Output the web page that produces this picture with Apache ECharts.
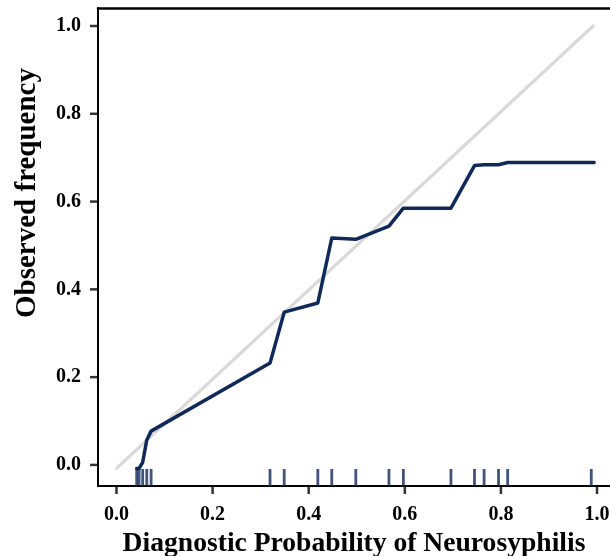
<!DOCTYPE html>
<html>
<head>
<meta charset="utf-8">
<script src="https://cdn.jsdelivr.net/npm/echarts@6/dist/echarts.min.js"></script>
<style>
  html, body { margin: 0; padding: 0; background: #fff; }
  #main { width: 610px; height: 556px; }
</style>
</head>
<body>
<div id="main"></div>
<script>
// calibration curve (predicted probability, observed frequency)
var curveX = [0.042, 0.047, 0.0545, 0.063, 0.072, 0.3195, 0.349, 0.419, 0.448, 0.498, 0.567, 0.597, 0.696, 0.745, 0.765, 0.795, 0.814, 0.994];
var curveY = [-0.008, -0.008, 0.006, 0.057, 0.077, 0.232, 0.348, 0.369, 0.517, 0.514, 0.544, 0.585, 0.585, 0.682, 0.684, 0.684, 0.689, 0.689];
// rug marks along the x axis
var rugX = [0.042, 0.047, 0.0545, 0.063, 0.072, 0.3195, 0.349, 0.419, 0.448, 0.498, 0.567, 0.597, 0.696, 0.745, 0.765, 0.795, 0.814, 0.988];
// ideal reference line
var idealX = [0, 0.992];
var idealY = [-0.008, 1.0];
// tick values on both axes
var tickValues = [0, 0.2, 0.4, 0.6, 0.8, 1.0];

var xMin = -0.0385, xMax = 1.027;
var yMin = -0.048, yMax = 1.041;
var serif = "'Liberation Serif', 'DejaVu Serif', serif";

function pairs(xs, ys) {
  var out = [];
  for (var i = 0; i < xs.length; i++) out.push([xs[i], ys[i]]);
  return out;
}

var myChart = echarts.init(document.getElementById('main'));
var option = {
  animation: false,
  grid: { left: 98, top: 8, right: 0, bottom: 70, containLabel: false, outerBoundsMode: 'none' },
  xAxis: [
    {
      type: 'value',
      min: xMin,
      max: xMax,
      name: 'Diagnostic Probability of Neurosyphilis',
      nameLocation: 'middle',
      nameGap: 44,
      nameTextStyle: { fontFamily: serif, fontWeight: 'bold', fontSize: 27.6, color: '#000' },
      splitLine: { show: false },
      axisLine: { onZero: false, lineStyle: { color: '#000', width: 2 } },
      axisTick: { show: false },
      axisLabel: {
        margin: 19,
        fontFamily: serif, fontWeight: 'bold', fontSize: 20, color: '#000',
        customValues: tickValues,
        formatter: function (v) { return v.toFixed(1); }
      }
    },
    {
      type: 'value',
      position: 'top',
      min: xMin,
      max: xMax,
      splitLine: { show: false },
      axisLine: { onZero: false, lineStyle: { color: '#000', width: 2.5 } },
      axisTick: { show: false },
      axisLabel: { show: false }
    }
  ],
  yAxis: {
    type: 'value',
    min: yMin,
    max: yMax,
    name: 'Observed frequency',
    nameLocation: 'middle',
    nameGap: 56,
    nameTextStyle: { fontFamily: serif, fontWeight: 'bold', fontSize: 29, color: '#000', padding: [0, 0, 0, 108] },
    splitLine: { show: false },
    axisLine: { onZero: false, lineStyle: { color: '#000', width: 2 } },
    axisTick: { show: false },
    axisLabel: {
      margin: 17,
      fontFamily: serif, fontWeight: 'bold', fontSize: 20, color: '#000',
      customValues: tickValues,
      formatter: function (v) { return v.toFixed(1); }
    }
  },
  series: [
    {
      name: 'ideal',
      type: 'line',
      data: pairs(idealX, idealY),
      symbol: 'none',
      lineStyle: { color: '#d9d9d9', width: 3.2, cap: 'round' },
      z: 1
    },
    {
      name: 'rug',
      type: 'scatter',
      data: rugX.map(function (x) { return [x, yMin]; }),
      symbol: 'rect',
      symbolSize: [2.8, 17],
      symbolOffset: [0, -8.5],
      itemStyle: { color: '#0f285a' },
      clip: false,
      z: 2
    },
    {
      name: 'calibration',
      type: 'line',
      data: pairs(curveX, curveY),
      symbol: 'none',
      lineStyle: { color: '#0f2a5a', width: 3.5, join: 'round', cap: 'round' },
      z: 3
    },
    {
      // x axis tick marks
      name: 'xticks',
      type: 'scatter',
      data: tickValues.map(function (v) { return [v, yMin]; }),
      symbol: 'rect',
      symbolSize: [2.5, 8],
      symbolOffset: [0, 4],
      itemStyle: { color: '#000' },
      clip: false,
      silent: true,
      z: 4
    },
    {
      // y axis tick marks
      name: 'yticks',
      type: 'scatter',
      data: tickValues.map(function (v) { return [xMin, v]; }),
      symbol: 'rect',
      symbolSize: [8, 2.5],
      symbolOffset: [-4, 0],
      itemStyle: { color: '#000' },
      clip: false,
      silent: true,
      z: 4
    }
  ]
};
myChart.setOption(option);
</script>
</body>
</html>
